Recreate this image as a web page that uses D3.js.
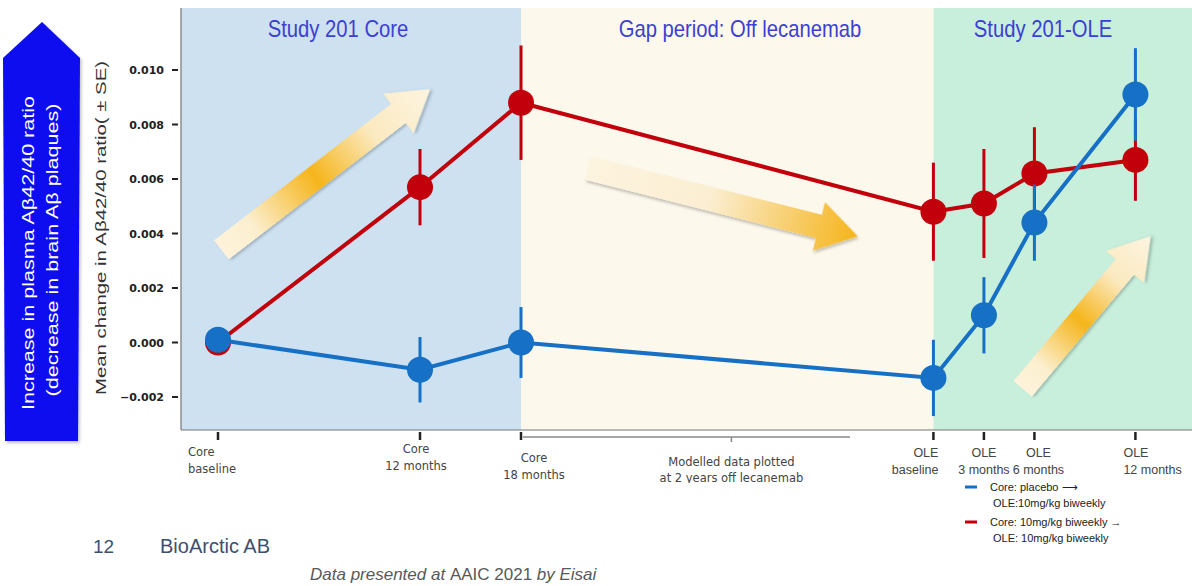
<!DOCTYPE html>
<html>
<head>
<meta charset="utf-8">
<script src="https://cdn.jsdelivr.net/npm/d3@7"></script>
<style>
  body { margin: 0; background: #fff; }
  svg { display: block; font-family: "Liberation Sans", Arial, sans-serif; }
</style>
</head>
<body>
<svg id="chart" width="1192" height="586"></svg>
<script>
// visit positions (months from core baseline)
var visitMonths = [0, 12, 18, 42.5, 45.5, 48.5, 54.5];
var visitLabels = [
  ["Core", "baseline"], ["Core", "12 months"], ["Core", "18 months"],
  ["OLE", "baseline"], ["OLE", "3 months"], ["OLE", "6 months"], ["OLE", "12 months"]
];
var modelledMonth = 30.5;

var placeboMean = [0.0001, -0.0010, 0.0000, -0.0013, 0.0010, 0.0044, 0.0091];
var placeboSE   = [0.0000, 0.0012, 0.0013, 0.0014, 0.0014, 0.0014, 0.0017];
var lecMean     = [0.0000, 0.0057, 0.0088, 0.0048, 0.0051, 0.0062, 0.0067];
var lecSE       = [0.0000, 0.0014, 0.0021, 0.0018, 0.0020, 0.0017, 0.0015];

var yTicks = [-0.002, 0.000, 0.002, 0.004, 0.006, 0.008, 0.010];

var periods = ["Study 201 Core", "Gap period: Off lecanemab", "Study 201-OLE"];
var periodBreaks = [18, 42.5];

// decorative trend arrows: [tailMonth, tailValue, tipMonth, tipValue, gradient]
var trendArrows = [
  [0.2, 0.0034, 12.6, 0.0093, "mid"],
  [22.0, 0.0064, 38.0, 0.0039, "end"],
  [47.8, -0.0017, 55.4, 0.0039, "mid"]
];

var svg = d3.select("#chart");

var plotLeft = 181, plotRight = 1192, plotTop = 8, plotBottom = 430;

var x = d3.scaleLinear().domain([0, 12]).range([218, 420]);
var y = d3.scaleLinear().domain([-0.002, 0.010]).range([397, 70]);

var defs = svg.append("defs");

// background panels
var edges = [plotLeft, x(periodBreaks[0]), x(periodBreaks[1]), plotRight];
var panelFill = ["#cde1f1", "#fdf8ec", "#c8eedc"];
periods.forEach(function(p, i) {
  svg.append("rect")
    .attr("x", edges[i]).attr("y", plotTop)
    .attr("width", edges[i + 1] - edges[i])
    .attr("height", plotBottom - plotTop)
    .attr("fill", panelFill[i]);
});
var titleX = [338, 740, 1043];
periods.forEach(function(p, i) {
  svg.append("text")
    .attr("x", titleX[i]).attr("y", 37)
    .attr("text-anchor", "middle")
    .attr("font-size", 23)
    .attr("fill", "#3b3fd3")
    .attr("transform", "translate(" + titleX[i] + ",0) scale(0.88,1) translate(" + (-titleX[i]) + ",0)")
    .text(p);
});

// gradients for trend arrows
var gMid = defs.append("linearGradient").attr("id", "gradMid")
  .attr("x1", 0).attr("x2", 1).attr("y1", 0).attr("y2", 0);
gMid.append("stop").attr("offset", 0).attr("stop-color", "#fdf3da");
gMid.append("stop").attr("offset", 0.15).attr("stop-color", "#fcefcf");
gMid.append("stop").attr("offset", 0.45).attr("stop-color", "#f5b51b");
gMid.append("stop").attr("offset", 0.72).attr("stop-color", "#fbe9bf");
gMid.append("stop").attr("offset", 1).attr("stop-color", "#fdf5e0");
var gEnd = defs.append("linearGradient").attr("id", "gradEnd")
  .attr("x1", 0).attr("x2", 1).attr("y1", 0).attr("y2", 0);
gEnd.append("stop").attr("offset", 0).attr("stop-color", "#fdf4df");
gEnd.append("stop").attr("offset", 0.45).attr("stop-color", "#fbeed2");
gEnd.append("stop").attr("offset", 1).attr("stop-color", "#f5b41a");

var shadow = defs.append("filter").attr("id", "shadow")
  .attr("x", "-10%").attr("y", "-30%").attr("width", "130%").attr("height", "170%");
shadow.append("feDropShadow").attr("dx", 1.5).attr("dy", 2).attr("stdDeviation", 1.5)
  .attr("flood-color", "#000").attr("flood-opacity", 0.25);

trendArrows.forEach(function(a) {
  var x0 = x(a[0]), y0 = y(a[1]), x1 = x(a[2]), y1 = y(a[3]);
  var len = Math.hypot(x1 - x0, y1 - y0);
  var ang = Math.atan2(y1 - y0, x1 - x0) * 180 / Math.PI;
  var w = 12, hw = 25, hl = 40;
  var pts = [[0, -w], [len - hl, -w], [len - hl, -hw], [len, 0],
             [len - hl, hw], [len - hl, w], [0, w]];
  svg.append("polygon")
    .attr("points", pts.map(function(p) { return p.join(","); }).join(" "))
    .attr("fill", a[4] == "mid" ? "url(#gradMid)" : "url(#gradEnd)")
    .attr("filter", "url(#shadow)")
    .attr("transform", "translate(" + x0 + "," + y0 + ") rotate(" + ang + ")");
});

// axes lines
svg.append("line").attr("x1", plotLeft).attr("x2", plotLeft)
  .attr("y1", plotTop).attr("y2", plotBottom)
  .attr("stroke", "#777").attr("stroke-width", 1.2);
svg.append("line").attr("x1", plotLeft).attr("x2", plotRight)
  .attr("y1", plotBottom).attr("y2", plotBottom)
  .attr("stroke", "#777").attr("stroke-width", 1.2);

// y ticks
var yt = svg.append("g");
yTicks.forEach(function(t) {
  yt.append("line").attr("x1", 172).attr("x2", 178)
    .attr("y1", y(t)).attr("y2", y(t))
    .attr("stroke", "#222").attr("stroke-width", 2);
  yt.append("text").attr("x", 164).attr("y", y(t) + 4)
    .attr("text-anchor", "end")
    .attr("font-family", "'DejaVu Sans', sans-serif")
    .attr("font-size", 11).attr("font-weight", "bold").attr("fill", "#222")
    .text(d3.format(".3f")(t));
});

svg.append("text")
  .attr("transform", "translate(106,228) rotate(-90)")
  .attr("text-anchor", "middle")
  .attr("font-size", 15).attr("fill", "#333")
  .attr("textLength", 334).attr("lengthAdjust", "spacingAndGlyphs")
  .text("Mean change in A\u03b242/40 ratio( \u00b1 SE)");

// big blue arrow on the left
var blueArrow = [[3, 58], [42, 22], [80, 58], [78, 441], [5, 441]];
svg.append("polygon")
  .attr("points", blueArrow.map(function(p) { return p.join(","); }).join(" "))
  .attr("fill", "#0a0af0")
  .attr("filter", "url(#shadow)");
svg.append("text")
  .attr("transform", "translate(34,253) rotate(-90)")
  .attr("text-anchor", "middle")
  .attr("font-size", 16.5).attr("fill", "#fff")
  .attr("textLength", 314).attr("lengthAdjust", "spacingAndGlyphs")
  .text("Increase in plasma A\u03b242/40 ratio");
svg.append("text")
  .attr("transform", "translate(58,250) rotate(-90)")
  .attr("text-anchor", "middle")
  .attr("font-size", 16.5).attr("fill", "#fff")
  .attr("textLength", 293).attr("lengthAdjust", "spacingAndGlyphs")
  .text("(decrease in brain A\u03b2 plaques)");

// x ticks and labels
var clip = defs.append("clipPath").attr("id", "labClip");
clip.append("rect").attr("x", 0).attr("y", 0).attr("width", 1192).attr("height", 483);
var xl = svg.append("g").attr("clip-path", "url(#labClip)");

visitMonths.forEach(function(m) {
  xl.append("line").attr("x1", x(m)).attr("x2", x(m))
    .attr("y1", 432).attr("y2", 440)
    .attr("stroke", "#222").attr("stroke-width", 2.5);
});

// modelled bracket
xl.append("line").attr("x1", x(18) + 2).attr("x2", 850)
  .attr("y1", 437).attr("y2", 437)
  .attr("stroke", "#888").attr("stroke-width", 1.5);
xl.append("line").attr("x1", x(modelledMonth)).attr("x2", x(modelledMonth))
  .attr("y1", 437).attr("y2", 442)
  .attr("stroke", "#888").attr("stroke-width", 1.5);

var labAnchor = ["start", "middle", "middle", "end", "middle", "middle", "start"];
var labDx = [-30, -4, 13, 5, 0, 4, -12];
var labY = [456, 453, 462, 457, 457, 457, 457];
visitMonths.forEach(function(m, i) {
  var ole = i >= 3;
  var t = xl.append("text")
    .attr("text-anchor", labAnchor[i])
    .attr("font-family", ole ? "'Liberation Sans', Arial, sans-serif" : "'DejaVu Sans', sans-serif")
    .attr("font-size", ole ? 12.5 : 11.5).attr("fill", "#444");
  visitLabels[i].forEach(function(s, j) {
    t.append("tspan").attr("x", x(m) + labDx[i]).attr("y", labY[i] + j * 17).text(s);
  });
});
var mt = xl.append("text").attr("text-anchor", "middle")
  .attr("font-family", "'DejaVu Sans', sans-serif")
  .attr("font-size", 11.5).attr("fill", "#444");
mt.append("tspan").attr("x", x(modelledMonth)).attr("y", 466).text("Modelled data plotted");
mt.append("tspan").attr("x", x(modelledMonth)).attr("y", 482).text("at 2 years off lecanemab");

// series
function drawSeries(mean, se, color) {
  var g = svg.append("g");
  var line = d3.line()
    .x(function(d, i) { return x(visitMonths[i]); })
    .y(function(d) { return y(d); });
  g.selectAll("line.err").data(mean).enter().append("line")
    .attr("class", "err")
    .attr("x1", function(d, i) { return x(visitMonths[i]); })
    .attr("x2", function(d, i) { return x(visitMonths[i]); })
    .attr("y1", function(d, i) { return y(d - se[i]); })
    .attr("y2", function(d, i) { return y(d + se[i]); })
    .attr("stroke", color).attr("stroke-width", 3);
  g.append("path").datum(mean)
    .attr("d", line)
    .attr("fill", "none").attr("stroke", color).attr("stroke-width", 4);
  g.selectAll("circle").data(mean).enter().append("circle")
    .attr("cx", function(d, i) { return x(visitMonths[i]); })
    .attr("cy", function(d) { return y(d); })
    .attr("r", 13)
    .attr("fill", color);
}
drawSeries(lecMean, lecSE, "#c1000b");
drawSeries(placeboMean, placeboSE, "#1570c6");

// legend
var legend = [
  ["#1570c6", "Core: placebo \u27f6", "OLE:10mg/kg biweekly", 487],
  ["#c1000b", "Core: 10mg/kg biweekly \u2192", "OLE: 10mg/kg biweekly", 522]
];
legend.forEach(function(l) {
  svg.append("line").attr("x1", 965).attr("x2", 977)
    .attr("y1", l[3]).attr("y2", l[3])
    .attr("stroke", l[0]).attr("stroke-width", 3);
  svg.append("text").attr("x", 990).attr("y", l[3] + 4)
    .attr("font-size", 11).attr("fill", "#222").text(l[1]);
  svg.append("text").attr("x", 993).attr("y", l[3] + 20)
    .attr("font-size", 11).attr("fill", "#222").text(l[2]);
});

// footer
svg.append("text").attr("x", 93).attr("y", 553)
  .attr("font-size", 19).attr("fill", "#3d4f6e").text("12");
svg.append("text").attr("x", 160).attr("y", 553)
  .attr("font-size", 20).attr("fill", "#3d4f6e").text("BioArctic AB");
var foot = svg.append("text").attr("x", 310).attr("y", 580)
  .attr("font-size", 17).attr("fill", "#595959");
foot.append("tspan").attr("font-style", "italic").text("Data presented at ");
foot.append("tspan").text("AAIC 2021 ");
foot.append("tspan").attr("font-style", "italic").text("by Eisai");
</script>
</body>
</html>
